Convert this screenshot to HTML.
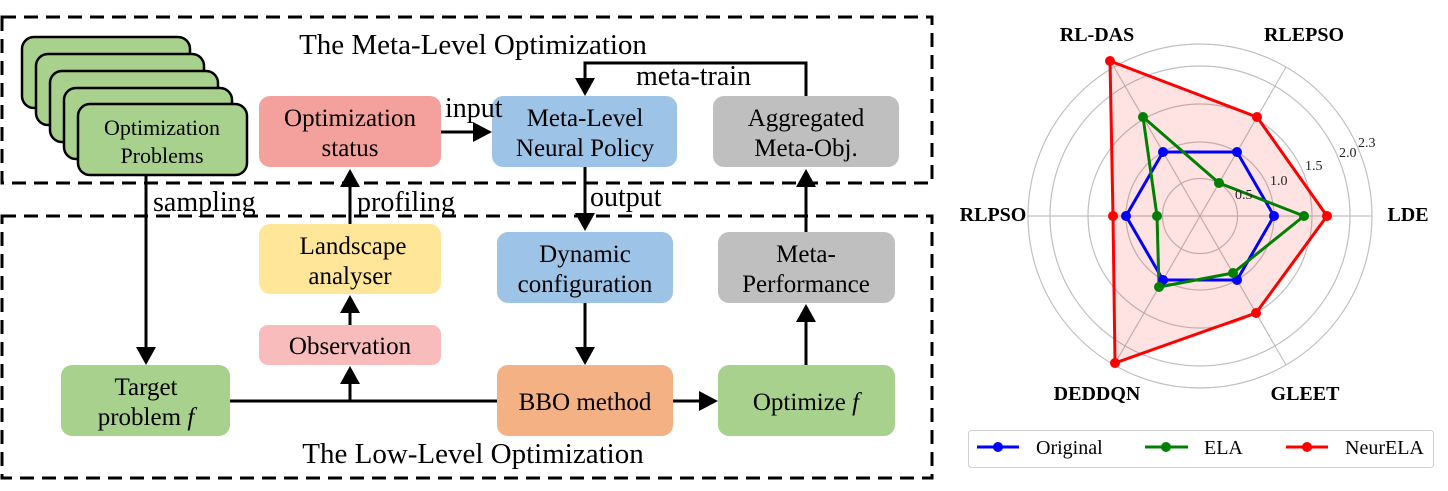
<!DOCTYPE html>
<html><head><meta charset="utf-8"><style>
html,body{margin:0;padding:0;background:#fff;}
svg{display:block;font-family:"Liberation Serif",serif;}
</style></head><body>
<svg width="1448" height="491" viewBox="0 0 1448 491" xmlns="http://www.w3.org/2000/svg" font-family="Liberation Serif, serif">
<!-- dashed boxes -->
<rect x="2" y="17" width="930" height="166" fill="none" stroke="#000" stroke-width="3" stroke-dasharray="14,8"/>
<rect x="2" y="216" width="930" height="262" fill="none" stroke="#000" stroke-width="3" stroke-dasharray="14,8"/>
<g font-size="29" text-anchor="middle">
<text x="473" y="54">The Meta-Level Optimization</text>
<text x="473" y="463">The Low-Level Optimization</text>
</g>
<!-- stacked cards -->
<g fill="#a9d18e" stroke="#000" stroke-width="2.5">
<rect x="22" y="37" width="168" height="71" rx="12"/>
<rect x="36" y="54" width="168" height="71" rx="12"/>
<rect x="50" y="71" width="168" height="71" rx="12"/>
<rect x="64" y="88" width="168" height="71" rx="12"/>
<rect x="78" y="104" width="169" height="71" rx="12"/>
</g>
<!-- boxes -->
<rect x="259" y="96" width="182" height="71" rx="11" fill="#f4a09c"/>
<rect x="492" y="96" width="185" height="71" rx="11" fill="#9dc3e6"/>
<rect x="713" y="96" width="186" height="71" rx="11" fill="#bfbfbf"/>
<rect x="259" y="224" width="182" height="70" rx="11" fill="#ffe699"/>
<rect x="259" y="325" width="182" height="40" rx="9" fill="#f8bcbc"/>
<rect x="61" y="365" width="169" height="71" rx="11" fill="#a9d18e"/>
<rect x="497" y="232" width="176" height="71" rx="11" fill="#9dc3e6"/>
<rect x="718" y="232" width="177" height="71" rx="11" fill="#bfbfbf"/>
<rect x="497" y="365" width="176" height="71" rx="11" fill="#f4b183"/>
<rect x="718" y="365" width="177" height="71" rx="11" fill="#a9d18e"/>
<g font-size="25" text-anchor="middle" fill="#000">
<text x="162" y="135" font-size="22">Optimization</text>
<text x="162" y="163" font-size="22">Problems</text>
<text x="350" y="126">Optimization</text>
<text x="350" y="156">status</text>
<text x="585" y="126">Meta-Level</text>
<text x="585" y="156">Neural Policy</text>
<text x="806" y="126">Aggregated</text>
<text x="806" y="156">Meta-Obj.</text>
<text x="353" y="254">Landscape</text>
<text x="350" y="284">analyser</text>
<text x="350" y="354">Observation</text>
<text x="146" y="395">Target</text>
<text x="146" y="425">problem <tspan font-style="italic">f</tspan></text>
<text x="585" y="262">Dynamic</text>
<text x="585" y="292">configuration</text>
<text x="806" y="262">Meta-</text>
<text x="806" y="292">Performance</text>
<text x="585" y="410">BBO method</text>
<text x="806" y="410">Optimize <tspan font-style="italic">f</tspan></text>
</g>
<g font-size="28" fill="#000">
<text x="445" y="117">input</text>
<text x="636" y="85">meta-train</text>
<text x="590" y="206">output</text>
<text x="153" y="211">sampling</text>
<text x="357" y="211">profiling</text>
</g>
<!-- connectors -->
<g stroke="#000" stroke-width="3" fill="none">
<line x1="146" y1="175" x2="146" y2="348"/>
<line x1="350" y1="224" x2="350" y2="186"/>
<line x1="350" y1="325" x2="350" y2="312"/>
<line x1="230" y1="401" x2="497" y2="401"/>
<line x1="350" y1="401" x2="350" y2="384"/>
<line x1="441" y1="132" x2="474" y2="132"/>
<polyline points="806,96 806,63 585,63 585,80"/>
<line x1="585" y1="167" x2="585" y2="214"/>
<line x1="585" y1="303" x2="585" y2="347"/>
<line x1="673" y1="401" x2="700" y2="401"/>
<line x1="806" y1="365" x2="806" y2="321"/>
<line x1="806" y1="232" x2="806" y2="185"/>
</g>
<g fill="#000">
<polygon points="136,347 156,347 146,365"/>
<polygon points="340,187 360,187 350,169"/>
<polygon points="340,313 360,313 350,295"/>
<polygon points="340,384 360,384 350,366"/>
<polygon points="473,122 473,142 492,132"/>
<polygon points="575,78 595,78 585,96"/>
<polygon points="575,213 595,213 585,231"/>
<polygon points="575,347 595,347 585,365"/>
<polygon points="699,391 699,411 718,401"/>
<polygon points="796,322 816,322 806,304"/>
<polygon points="796,187 816,187 806,169"/>
</g>
<!-- radar -->
<g fill="none" stroke="#c0c0c0" stroke-width="1.2">
<circle cx="1200" cy="216" r="37.5"/>
<circle cx="1200" cy="216" r="74"/>
<circle cx="1200" cy="216" r="112"/>
<circle cx="1200" cy="216" r="150"/>
<circle cx="1200" cy="216" r="172"/>
<line x1="1028" y1="216" x2="1372" y2="216"/>
<line x1="1114" y1="67" x2="1286" y2="365"/>
<line x1="1286" y1="67" x2="1114" y2="365"/>
</g>
<polygon points="1327,216 1257,117 1110,61 1113,216 1115,363 1256,313" fill="#ff0000" fill-opacity="0.11" stroke="#ff0000" stroke-width="3" stroke-linejoin="round"/>
<polygon points="1274,216 1237,152 1163,152 1126,216 1163,280 1237,280" fill="none" stroke="#0000ff" stroke-width="3" stroke-linejoin="round"/>
<polygon points="1304,216 1219,183 1143,117 1157,216 1159,287 1233,273" fill="none" stroke="#008000" stroke-width="3" stroke-linejoin="round"/>
<g fill="#0000ff">
<circle cx="1274" cy="216" r="5"/><circle cx="1237" cy="152" r="5"/><circle cx="1163" cy="152" r="5"/><circle cx="1126" cy="216" r="5"/><circle cx="1163" cy="280" r="5"/><circle cx="1237" cy="280" r="5"/>
</g>
<g fill="#008000">
<circle cx="1304" cy="216" r="5"/><circle cx="1219" cy="183" r="5"/><circle cx="1143" cy="117" r="5"/><circle cx="1157" cy="216" r="5"/><circle cx="1159" cy="287" r="5"/><circle cx="1233" cy="273" r="5"/>
</g>
<g fill="#ff0000">
<circle cx="1327" cy="216" r="5"/><circle cx="1257" cy="117" r="5"/><circle cx="1110" cy="61" r="5"/><circle cx="1113" cy="216" r="5"/><circle cx="1115" cy="363" r="5"/><circle cx="1256" cy="313" r="5"/>
</g>
<g font-size="14" fill="#222">
<text x="1235" y="199">0.5</text>
<text x="1270" y="185">1.0</text>
<text x="1305" y="170">1.5</text>
<text x="1339" y="157">2.0</text>
<text x="1358" y="147">2.3</text>
</g>
<g font-size="20" font-weight="bold" text-anchor="middle" fill="#000">
<text x="1097" y="41">RL-DAS</text>
<text x="1304" y="41">RLEPSO</text>
<text x="993" y="221">RLPSO</text>
<text x="1408" y="221">LDE</text>
<text x="1097" y="400">DEDDQN</text>
<text x="1305" y="400">GLEET</text>
</g>
<!-- legend -->
<rect x="968.5" y="430.5" width="465" height="37" rx="3" fill="#fff" stroke="#d0d0d0" stroke-width="1"/>
<g stroke-width="3">
<line x1="977" y1="447" x2="1019" y2="447" stroke="#0000ff"/><circle cx="998" cy="447" r="5" fill="#0000ff"/>
<line x1="1145" y1="447" x2="1188" y2="447" stroke="#008000"/><circle cx="1166" cy="447" r="5" fill="#008000"/>
<line x1="1286" y1="447" x2="1328" y2="447" stroke="#ff0000"/><circle cx="1307" cy="447" r="5" fill="#ff0000"/>
</g>
<g font-size="20" fill="#000">
<text x="1036" y="454">Original</text>
<text x="1204" y="454">ELA</text>
<text x="1345" y="454">NeurELA</text>
</g>
</svg>
</body></html>
